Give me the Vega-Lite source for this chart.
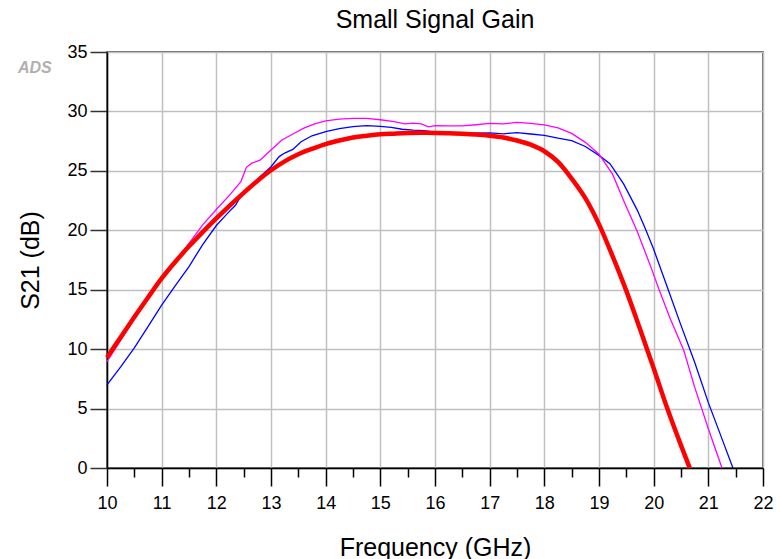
{
  "$schema": "https://vega.github.io/schema/vega-lite/v6.json",
  "width": 656,
  "height": 416,
  "autosize": {"type": "none"},
  "padding": {"left": 107, "top": 52, "right": 17, "bottom": 91},
  "background": "white",
  "title": {"text": "Small Signal Gain", "fontSize": 25, "font": "Liberation Sans", "fontWeight": "normal", "color": "#000", "anchor": "middle", "offset": 10},
  "config": {
    "font": "Liberation Sans",
    "view": {"stroke": "#333", "strokeWidth": 1.5},
    "axis": {"labelFont": "Liberation Sans", "titleFont": "Liberation Sans", "labelFontSize": 18, "titleFontSize": 25, "titleFontWeight": "normal", "labelColor": "#000", "titleColor": "#000", "domainColor": "#000", "domainWidth": 1.5, "tickColor": "#000", "tickWidth": 1.5, "gridColor": "#c0c0c0", "gridWidth": 1.5, "labelFlush": false, "labelOverlap": false}
  },
  "datasets": {
    "gain": [
      {"series": "sim", "f": 10, "s21": 9.3}, {"series": "sim", "f": 10.25, "s21": 11.0}, {"series": "sim", "f": 10.5, "s21": 12.7}, {"series": "sim", "f": 10.75, "s21": 14.35}, {"series": "sim", "f": 11, "s21": 15.95}, {"series": "sim", "f": 11.25, "s21": 17.35}, {"series": "sim", "f": 11.5, "s21": 18.65}, {"series": "sim", "f": 11.75, "s21": 19.85}, {"series": "sim", "f": 12, "s21": 21.0}, {"series": "sim", "f": 12.25, "s21": 22.1}, {"series": "sim", "f": 12.5, "s21": 23.15}, {"series": "sim", "f": 12.75, "s21": 24.15}, {"series": "sim", "f": 13, "s21": 25.05}, {"series": "sim", "f": 13.25, "s21": 25.8}, {"series": "sim", "f": 13.5, "s21": 26.4}, {"series": "sim", "f": 13.75, "s21": 26.85}, {"series": "sim", "f": 14, "s21": 27.25}, {"series": "sim", "f": 14.25, "s21": 27.55}, {"series": "sim", "f": 14.5, "s21": 27.8}, {"series": "sim", "f": 14.75, "s21": 27.95}, {"series": "sim", "f": 15, "s21": 28.07}, {"series": "sim", "f": 15.25, "s21": 28.13}, {"series": "sim", "f": 15.5, "s21": 28.18}, {"series": "sim", "f": 15.75, "s21": 28.2}, {"series": "sim", "f": 16, "s21": 28.19}, {"series": "sim", "f": 16.25, "s21": 28.17}, {"series": "sim", "f": 16.5, "s21": 28.12}, {"series": "sim", "f": 16.75, "s21": 28.05}, {"series": "sim", "f": 17, "s21": 27.95}, {"series": "sim", "f": 17.25, "s21": 27.8}, {"series": "sim", "f": 17.5, "s21": 27.55}, {"series": "sim", "f": 17.75, "s21": 27.2}, {"series": "sim", "f": 18, "s21": 26.65}, {"series": "sim", "f": 18.25, "s21": 25.75}, {"series": "sim", "f": 18.5, "s21": 24.35}, {"series": "sim", "f": 18.75, "s21": 22.7}, {"series": "sim", "f": 19, "s21": 20.5}, {"series": "sim", "f": 19.25, "s21": 17.8}, {"series": "sim", "f": 19.5, "s21": 14.9}, {"series": "sim", "f": 19.75, "s21": 11.7}, {"series": "sim", "f": 20, "s21": 8.4}, {"series": "sim", "f": 20.25, "s21": 5.0}, {"series": "sim", "f": 20.5, "s21": 1.9}, {"series": "sim", "f": 20.66, "s21": 0},
      {"series": "meas1", "f": 10, "s21": 7.0}, {"series": "meas1", "f": 10.25, "s21": 8.5}, {"series": "meas1", "f": 10.5, "s21": 10.1}, {"series": "meas1", "f": 10.75, "s21": 11.9}, {"series": "meas1", "f": 11, "s21": 13.7}, {"series": "meas1", "f": 11.25, "s21": 15.35}, {"series": "meas1", "f": 11.5, "s21": 16.95}, {"series": "meas1", "f": 11.75, "s21": 18.8}, {"series": "meas1", "f": 12, "s21": 20.4}, {"series": "meas1", "f": 12.2, "s21": 21.4}, {"series": "meas1", "f": 12.35, "s21": 22.1}, {"series": "meas1", "f": 12.45, "s21": 22.9}, {"series": "meas1", "f": 12.55, "s21": 23.3}, {"series": "meas1", "f": 12.75, "s21": 24.3}, {"series": "meas1", "f": 13, "s21": 25.35}, {"series": "meas1", "f": 13.15, "s21": 26.2}, {"series": "meas1", "f": 13.25, "s21": 26.5}, {"series": "meas1", "f": 13.4, "s21": 26.8}, {"series": "meas1", "f": 13.55, "s21": 27.45}, {"series": "meas1", "f": 13.75, "s21": 27.95}, {"series": "meas1", "f": 14, "s21": 28.3}, {"series": "meas1", "f": 14.25, "s21": 28.55}, {"series": "meas1", "f": 14.5, "s21": 28.72}, {"series": "meas1", "f": 14.75, "s21": 28.8}, {"series": "meas1", "f": 15, "s21": 28.75}, {"series": "meas1", "f": 15.2, "s21": 28.65}, {"series": "meas1", "f": 15.4, "s21": 28.5}, {"series": "meas1", "f": 15.6, "s21": 28.42}, {"series": "meas1", "f": 15.8, "s21": 28.38}, {"series": "meas1", "f": 16, "s21": 28.25}, {"series": "meas1", "f": 16.25, "s21": 28.2}, {"series": "meas1", "f": 16.5, "s21": 28.15}, {"series": "meas1", "f": 16.75, "s21": 28.18}, {"series": "meas1", "f": 17, "s21": 28.2}, {"series": "meas1", "f": 17.25, "s21": 28.12}, {"series": "meas1", "f": 17.5, "s21": 28.22}, {"series": "meas1", "f": 17.75, "s21": 28.1}, {"series": "meas1", "f": 18, "s21": 27.98}, {"series": "meas1", "f": 18.25, "s21": 27.75}, {"series": "meas1", "f": 18.5, "s21": 27.55}, {"series": "meas1", "f": 18.75, "s21": 27.05}, {"series": "meas1", "f": 19, "s21": 26.3}, {"series": "meas1", "f": 19.2, "s21": 25.6}, {"series": "meas1", "f": 19.45, "s21": 23.9}, {"series": "meas1", "f": 19.7, "s21": 21.7}, {"series": "meas1", "f": 19.85, "s21": 20.1}, {"series": "meas1", "f": 20, "s21": 18.4}, {"series": "meas1", "f": 20.25, "s21": 15.2}, {"series": "meas1", "f": 20.5, "s21": 12.0}, {"series": "meas1", "f": 20.75, "s21": 8.9}, {"series": "meas1", "f": 21, "s21": 5.5}, {"series": "meas1", "f": 21.25, "s21": 2.45}, {"series": "meas1", "f": 21.45, "s21": 0},
      {"series": "meas2", "f": 10, "s21": 8.95}, {"series": "meas2", "f": 10.25, "s21": 10.75}, {"series": "meas2", "f": 10.5, "s21": 12.55}, {"series": "meas2", "f": 10.75, "s21": 14.35}, {"series": "meas2", "f": 11, "s21": 16.1}, {"series": "meas2", "f": 11.25, "s21": 17.35}, {"series": "meas2", "f": 11.5, "s21": 18.9}, {"series": "meas2", "f": 11.75, "s21": 20.45}, {"series": "meas2", "f": 12, "s21": 21.75}, {"series": "meas2", "f": 12.25, "s21": 23.0}, {"series": "meas2", "f": 12.45, "s21": 24.1}, {"series": "meas2", "f": 12.55, "s21": 25.3}, {"series": "meas2", "f": 12.65, "s21": 25.65}, {"series": "meas2", "f": 12.8, "s21": 25.9}, {"series": "meas2", "f": 13, "s21": 26.75}, {"series": "meas2", "f": 13.2, "s21": 27.6}, {"series": "meas2", "f": 13.4, "s21": 28.1}, {"series": "meas2", "f": 13.6, "s21": 28.6}, {"series": "meas2", "f": 13.8, "s21": 28.95}, {"series": "meas2", "f": 14, "s21": 29.2}, {"series": "meas2", "f": 14.25, "s21": 29.35}, {"series": "meas2", "f": 14.5, "s21": 29.42}, {"series": "meas2", "f": 14.75, "s21": 29.42}, {"series": "meas2", "f": 15, "s21": 29.3}, {"series": "meas2", "f": 15.25, "s21": 29.15}, {"series": "meas2", "f": 15.45, "s21": 28.95}, {"series": "meas2", "f": 15.6, "s21": 29.02}, {"series": "meas2", "f": 15.75, "s21": 28.95}, {"series": "meas2", "f": 15.88, "s21": 28.7}, {"series": "meas2", "f": 16, "s21": 28.8}, {"series": "meas2", "f": 16.25, "s21": 28.78}, {"series": "meas2", "f": 16.5, "s21": 28.78}, {"series": "meas2", "f": 16.75, "s21": 28.88}, {"series": "meas2", "f": 17, "s21": 29.0}, {"series": "meas2", "f": 17.25, "s21": 28.95}, {"series": "meas2", "f": 17.5, "s21": 29.08}, {"series": "meas2", "f": 17.75, "s21": 29.0}, {"series": "meas2", "f": 18, "s21": 28.86}, {"series": "meas2", "f": 18.25, "s21": 28.62}, {"series": "meas2", "f": 18.5, "s21": 28.15}, {"series": "meas2", "f": 18.75, "s21": 27.4}, {"series": "meas2", "f": 19, "s21": 26.4}, {"series": "meas2", "f": 19.25, "s21": 24.7}, {"series": "meas2", "f": 19.45, "s21": 22.5}, {"series": "meas2", "f": 19.7, "s21": 19.9}, {"series": "meas2", "f": 19.95, "s21": 16.9}, {"series": "meas2", "f": 20.1, "s21": 15.0}, {"series": "meas2", "f": 20.3, "s21": 12.6}, {"series": "meas2", "f": 20.55, "s21": 9.9}, {"series": "meas2", "f": 20.75, "s21": 6.8}, {"series": "meas2", "f": 21, "s21": 3.3}, {"series": "meas2", "f": 21.25, "s21": 0}
    ],
    "logo": [{"label": "ADS", "f": 8.68, "s21": 33.65}]
  },
  "resolve": {"axis": {"x": "independent"}},
  "layer": [
    {
      "data": {"name": "gain"},
      "transform": [{"filter": "datum.series === 'meas1'"}],
      "mark": {"type": "line", "color": "#0000ff", "strokeWidth": 1.3},
      "encoding": {
        "x": {"field": "f", "type": "quantitative", "scale": {"domain": [10, 22], "nice": false, "zero": false},
              "axis": {"orient": "bottom", "title": "Frequency (GHz)", "values": [10, 11, 12, 13, 14, 15, 16, 17, 18, 19, 20, 21, 22], "grid": true, "tickSize": 18, "labelPadding": 8, "titlePadding": 23}},
        "y": {"field": "s21", "type": "quantitative", "scale": {"domain": [0, 35], "nice": false, "zero": false},
              "axis": {"title": "S21 (dB)", "values": [0, 5, 10, 15, 20, 25, 30, 35], "grid": true, "tickSize": 17, "tickColor": "#333", "labelPadding": 3, "titlePadding": 23}}
      }
    },
    {
      "data": {"name": "gain"},
      "transform": [{"filter": "datum.series === 'meas2'"}],
      "mark": {"type": "line", "color": "#ff00ff", "strokeWidth": 1.3},
      "encoding": {
        "x": {"field": "f", "type": "quantitative",
              "axis": {"orient": "bottom", "title": null, "values": [10.5, 11.5, 12.5, 13.5, 14.5, 15.5, 16.5, 17.5, 18.5, 19.5, 20.5, 21.5], "grid": false, "labels": false, "domain": false, "tickSize": 9}},
        "y": {"field": "s21", "type": "quantitative"}
      }
    },
    {
      "data": {"name": "gain"},
      "transform": [{"filter": "datum.series === 'sim'"}],
      "mark": {"type": "line", "color": "#ff0000", "strokeWidth": 4.5, "interpolate": "monotone"},
      "encoding": {
        "x": {"field": "f", "type": "quantitative", "axis": null},
        "y": {"field": "s21", "type": "quantitative"}
      }
    },
    {
      "data": {"name": "logo"},
      "mark": {"type": "text", "font": "Liberation Sans", "fontSize": 16, "fontStyle": "italic", "fontWeight": "bold", "color": "#b0b0b0", "align": "center", "baseline": "middle"},
      "encoding": {
        "x": {"field": "f", "type": "quantitative", "axis": null},
        "y": {"field": "s21", "type": "quantitative"},
        "text": {"field": "label"}
      }
    }
  ]
}
